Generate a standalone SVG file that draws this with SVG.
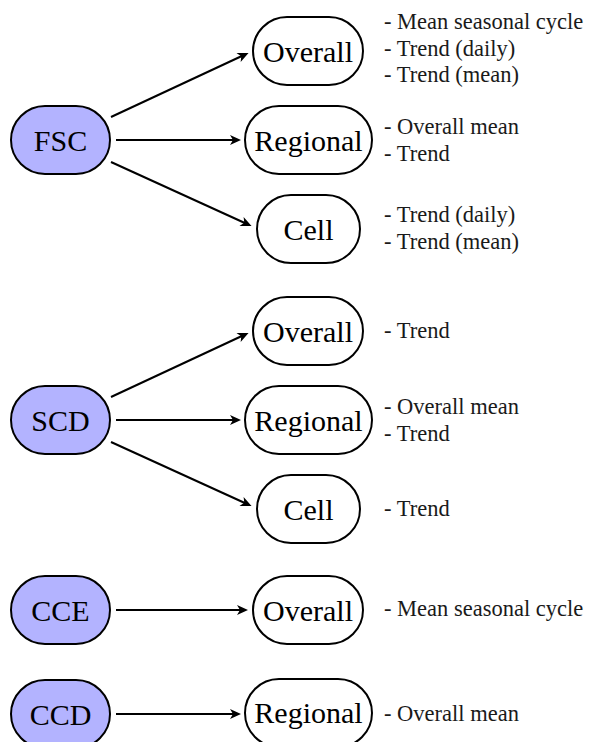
<svg xmlns="http://www.w3.org/2000/svg" width="593" height="742" viewBox="0 0 593 742">
<style>
.src rect{fill:#b3b3ff;stroke:#000;stroke-width:2}
.dst rect{fill:#fff;stroke:#000;stroke-width:2}
.lbl{font-family:'Liberation Serif',serif;font-size:30px;text-anchor:middle;fill:#000}
.note{font-family:'Liberation Serif',serif;font-size:22.5px;fill:#1a1a1a}
.edge{stroke:#000;stroke-width:2;fill:none;marker-end:url(#arr)}
</style>
<defs>
<marker id="arr" viewBox="-8 -6 14 12" refX="0" refY="0" markerWidth="14" markerHeight="12" markerUnits="userSpaceOnUse" orient="auto">
<path d="M5,0 L-6,-5 L-3,0 L-6,5 Z" fill="#000"/>
</marker>
</defs>
<rect width="593" height="742" fill="#fff"/>

<g id="connectors">
<path class="edge" d="M111,117 L244,55"/>
<path class="edge" d="M116,140 L236,140"/>
<path class="edge" d="M111,162 L247,224"/>
<path class="edge" d="M111,397 L244,335"/>
<path class="edge" d="M116,420 L236,420"/>
<path class="edge" d="M111,442 L247,504"/>
<path class="edge" d="M116,610 L243,610"/>
<path class="edge" d="M116,714 L236,714"/>
</g>

<g id="FSC" class="src"><rect x="11" y="106" width="99" height="68" rx="34"/><text class="lbl" x="60.5" y="150.5">FSC</text></g>
<g id="FSC-Overall" class="dst"><rect x="253" y="17" width="110" height="68" rx="34"/><text class="lbl" x="308" y="61.5">Overall</text></g>
<g id="FSC-Regional" class="dst"><rect x="245" y="106" width="127" height="68" rx="34"/><text class="lbl" x="308.5" y="150.5">Regional</text></g>
<g id="FSC-Cell" class="dst"><rect x="257" y="195" width="103" height="68" rx="34"/><text class="lbl" x="308.5" y="239.5">Cell</text></g>

<g id="SCD" class="src"><rect x="11" y="386" width="99" height="68" rx="34"/><text class="lbl" x="60.5" y="430.5">SCD</text></g>
<g id="SCD-Overall" class="dst"><rect x="253" y="297" width="110" height="68" rx="34"/><text class="lbl" x="308" y="341.5">Overall</text></g>
<g id="SCD-Regional" class="dst"><rect x="245" y="386" width="127" height="68" rx="34"/><text class="lbl" x="308.5" y="430.5">Regional</text></g>
<g id="SCD-Cell" class="dst"><rect x="257" y="475" width="103" height="68" rx="34"/><text class="lbl" x="308.5" y="519.5">Cell</text></g>

<g id="CCE" class="src"><rect x="11" y="576" width="99" height="68" rx="34"/><text class="lbl" x="60.5" y="620.5">CCE</text></g>
<g id="CCE-Overall" class="dst"><rect x="253" y="576" width="110" height="68" rx="34"/><text class="lbl" x="308" y="620.5">Overall</text></g>

<g id="CCD" class="src"><rect x="11" y="680" width="99" height="68" rx="34"/><text class="lbl" x="60.5" y="724.5">CCD</text></g>
<g id="CCD-Regional" class="dst"><rect x="245" y="679" width="127" height="68" rx="34"/><text class="lbl" x="308.5" y="723">Regional</text></g>

<g id="notes">
<text class="note" x="384" y="29">- Mean seasonal cycle</text>
<text class="note" x="384" y="55.5">- Trend (daily)</text>
<text class="note" x="384" y="82">- Trend (mean)</text>
<text class="note" x="384" y="134">- Overall mean</text>
<text class="note" x="384" y="160.5">- Trend</text>
<text class="note" x="384" y="222">- Trend (daily)</text>
<text class="note" x="384" y="248.5">- Trend (mean)</text>
<text class="note" x="384" y="338">- Trend</text>
<text class="note" x="384" y="414">- Overall mean</text>
<text class="note" x="384" y="440.5">- Trend</text>
<text class="note" x="384" y="516">- Trend</text>
<text class="note" x="384" y="616">- Mean seasonal cycle</text>
<text class="note" x="384" y="721">- Overall mean</text>
</g>
</svg>
